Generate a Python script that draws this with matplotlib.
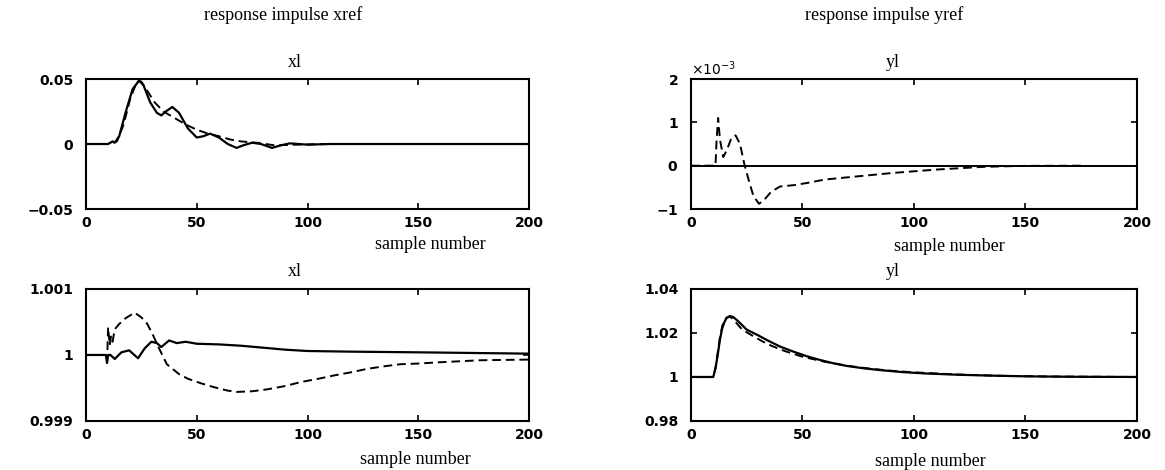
import matplotlib
matplotlib.use("Agg")
import matplotlib.pyplot as plt
from matplotlib.ticker import FuncFormatter, ScalarFormatter

# x axis (sample number)
x_ticks = [0, 50, 100, 150, 200]

# top left: xl, response to impulse on xref
tl_n_solid = [0, 10, 12, 13, 15, 18, 21, 24, 26, 29, 32, 34, 36, 39, 42, 46, 50, 53,
              56, 60, 64, 68, 71, 75, 79, 84, 88, 92, 100, 110, 200]
tl_solid = [0, 0, 0.002, 0.001, 0.006, 0.025, 0.042, 0.049, 0.045, 0.032, 0.024, 0.022,
            0.025, 0.0285, 0.024, 0.012, 0.005, 0.006, 0.008, 0.005, 0.0, -0.003, -0.001,
            0.001, 0.0, -0.003, -0.001, 0.0005, -0.0005, 0, 0]
tl_n_dash = [0, 10, 12, 14, 17, 20, 23, 25, 28, 31, 35, 40, 45, 50, 55, 60, 65, 70, 78,
             85, 95, 110, 162]
tl_dash = [0, 0, 0.001, 0.002, 0.015, 0.035, 0.048, 0.048, 0.040, 0.032, 0.025, 0.020,
           0.015, 0.011, 0.008, 0.006, 0.0035, 0.002, 0.0008, -0.001, -0.0005, 0, 0]
tl_yticks = [-0.05, 0, 0.05]

# top right: yl, response to impulse on xref
tr_n_solid = [0, 200]
tr_solid = [0, 0]
tr_n_dash = [0, 11, 11.5, 12.2, 13, 14.5, 16, 18, 20, 22, 24, 26, 28, 30.5, 33, 36, 40,
             46, 52, 60, 70, 80, 90, 100, 110, 120, 130, 140, 150, 177]
tr_dash = [0, 0, 0.6e-3, 1.1e-3, 0.6e-3, 0.2e-3, 0.35e-3, 0.62e-3, 0.7e-3, 0.5e-3,
           0.02e-3, -0.35e-3, -0.7e-3, -0.88e-3, -0.78e-3, -0.6e-3, -0.48e-3, -0.45e-3,
           -0.4e-3, -0.32e-3, -0.27e-3, -0.22e-3, -0.17e-3, -0.13e-3, -0.09e-3, -0.06e-3,
           -0.03e-3, -0.015e-3, -0.005e-3, 0]
tr_yticks = [-1e-3, 0, 1e-3, 2e-3]

# bottom left: xl, response to impulse on yref
bl_n_solid = [0, 9, 9.5, 10, 11, 13, 16, 19.5, 23.5, 26.5, 29.5, 32, 34, 37.5, 41, 45,
              50, 60, 70, 80, 90, 100, 120, 150, 175, 200]
bl_solid = [1, 1, 0.99988, 1.0, 1.0, 0.99994, 1.00004, 1.00007, 0.99995, 1.0001,
            1.0002, 1.00018, 1.00012, 1.00022, 1.00018, 1.0002, 1.00017, 1.00016,
            1.00014, 1.00011, 1.00008, 1.00006, 1.00005, 1.00004, 1.00003, 1.00002]
bl_n_dash = [0, 9, 9.5, 10, 10.7, 11.3, 12, 13, 15, 18, 22, 25, 27.5, 30, 32, 34, 36.5,
             42, 46, 52, 58, 64, 68, 75, 82, 90, 97, 105, 112, 120, 127, 135, 142, 150,
             160, 178, 200]
bl_dash = [1, 1, 0.99988, 1.00042, 1.00015, 1.00028, 1.0002, 1.00039, 1.00047, 1.00056,
           1.00064, 1.00057, 1.00048, 1.00032, 1.00017, 1.00003, 0.99986, 0.99971,
           0.99964, 0.99957, 0.99951, 0.99946, 0.99944, 0.99945, 0.99948, 0.99953,
           0.99959, 0.99964, 0.99969, 0.99974, 0.99979, 0.99983, 0.99986, 0.99987,
           0.99989, 0.99992, 0.99993]
bl_yticks = [0.999, 1, 1.001]

# bottom right: yl, response to impulse on yref
br_n_solid = [0, 10, 11, 12, 13, 14, 15, 16, 17.5, 19, 21, 25, 30, 34, 40, 46, 52, 58,
              64, 70, 77, 85, 95, 105, 120, 135, 150, 170, 200]
br_solid = [1.0, 1.0, 1.004, 1.010, 1.017, 1.022, 1.025, 1.0268, 1.0277, 1.0272, 1.0255,
            1.0215, 1.019, 1.0168, 1.0138, 1.0115, 1.0094, 1.0077, 1.0062, 1.005, 1.004,
            1.0031, 1.0022, 1.0016, 1.001, 1.0006, 1.0003, 1.0001, 1.0]
br_n_dash = [0, 10, 11, 12, 13, 14, 15, 16, 17.5, 19, 21, 23, 25, 28, 32, 36, 42, 50,
             60, 70, 80, 90, 100, 120, 140, 160, 200]
br_dash = [1.0, 1.0, 1.004, 1.011, 1.018, 1.023, 1.0258, 1.027, 1.0274, 1.0262, 1.0238,
           1.0215, 1.0203, 1.0185, 1.0162, 1.0142, 1.0118, 1.0092, 1.0069, 1.0051, 1.0038,
           1.0028, 1.0021, 1.0011, 1.0005, 1.0002, 1.0]
br_yticks = [0.98, 1, 1.02, 1.04]

SERIF = "Liberation Serif"
DASH = (0, (4.5, 2.5))


def plain(v, pos):
    return f"{v:g}".replace("-", "\u2212")


def style_axes(ax, yticks, xlabel_x, xlabel_y, title, title_y, title_x):
    ax.set_xlim(0, 200)
    ax.set_ylim(yticks[0], yticks[-1])
    ax.set_xticks(x_ticks)
    ax.set_yticks(yticks)
    ax.xaxis.set_major_formatter(FuncFormatter(plain))
    ax.tick_params(direction="in", top=True, right=True, length=4, width=1.2,
                   labelsize=10)
    ax.tick_params(axis="y", pad=9)
    ax.tick_params(axis="x", pad=5)
    for lab in ax.get_xticklabels() + ax.get_yticklabels():
        lab.set_fontweight("bold")
    for sp in ax.spines.values():
        sp.set_linewidth(1.5)
    ax.set_xlabel("sample number", family=SERIF, fontsize=13)
    ax.xaxis.set_label_coords(xlabel_x, xlabel_y)
    ax.text(title_x, title_y, title, transform=ax.transAxes, ha="center",
            va="center", family=SERIF, fontsize=13)


def main():
    fig = plt.figure(figsize=(11.65, 4.70), dpi=100)

    ax1 = fig.add_axes([0.0738, 0.5553, 0.3803, 0.2766])
    ax2 = fig.add_axes([0.5931, 0.5553, 0.3828, 0.2766])
    ax3 = fig.add_axes([0.0738, 0.1043, 0.3803, 0.2809])
    ax4 = fig.add_axes([0.5931, 0.1043, 0.3828, 0.2809])

    ax1.plot(tl_n_solid, tl_solid, color="black", lw=1.6)
    ax1.plot(tl_n_dash, tl_dash, color="black", lw=1.4, ls=DASH)
    ax2.plot(tr_n_solid, tr_solid, color="black", lw=1.4)
    ax2.plot(tr_n_dash, tr_dash, color="black", lw=1.4, ls=DASH)
    ax3.plot(bl_n_solid, bl_solid, color="black", lw=1.6)
    ax3.plot(bl_n_dash, bl_dash, color="black", lw=1.4, ls=DASH)
    ax4.plot(br_n_solid, br_solid, color="black", lw=1.6)
    ax4.plot(br_n_dash, br_dash, color="black", lw=1.4, ls=DASH)

    style_axes(ax1, tl_yticks, 0.777, -0.21, "xl", 1.13, 0.472)
    style_axes(ax2, tr_yticks, 0.58, -0.22, "yl", 1.13, 0.453)
    style_axes(ax3, bl_yticks, 0.743, -0.225, "xl", 1.13, 0.472)
    style_axes(ax4, br_yticks, 0.536, -0.24, "yl", 1.13, 0.453)

    for ax in (ax1, ax3, ax4):
        ax.yaxis.set_major_formatter(FuncFormatter(plain))
    fmt = ScalarFormatter(useMathText=True)
    fmt.set_powerlimits((0, 0))
    ax2.yaxis.set_major_formatter(fmt)
    ax2.yaxis.get_offset_text().set_fontsize(10)

    fig.text(283 / 1165, 1 - 15 / 470, "response impulse xref", ha="center",
             va="center", family=SERIF, fontsize=13)
    fig.text(884 / 1165, 1 - 15 / 470, "response impulse yref", ha="center",
             va="center", family=SERIF, fontsize=13)

    fig.savefig("out.png", dpi=100)


if __name__ == "__main__":
    main()
